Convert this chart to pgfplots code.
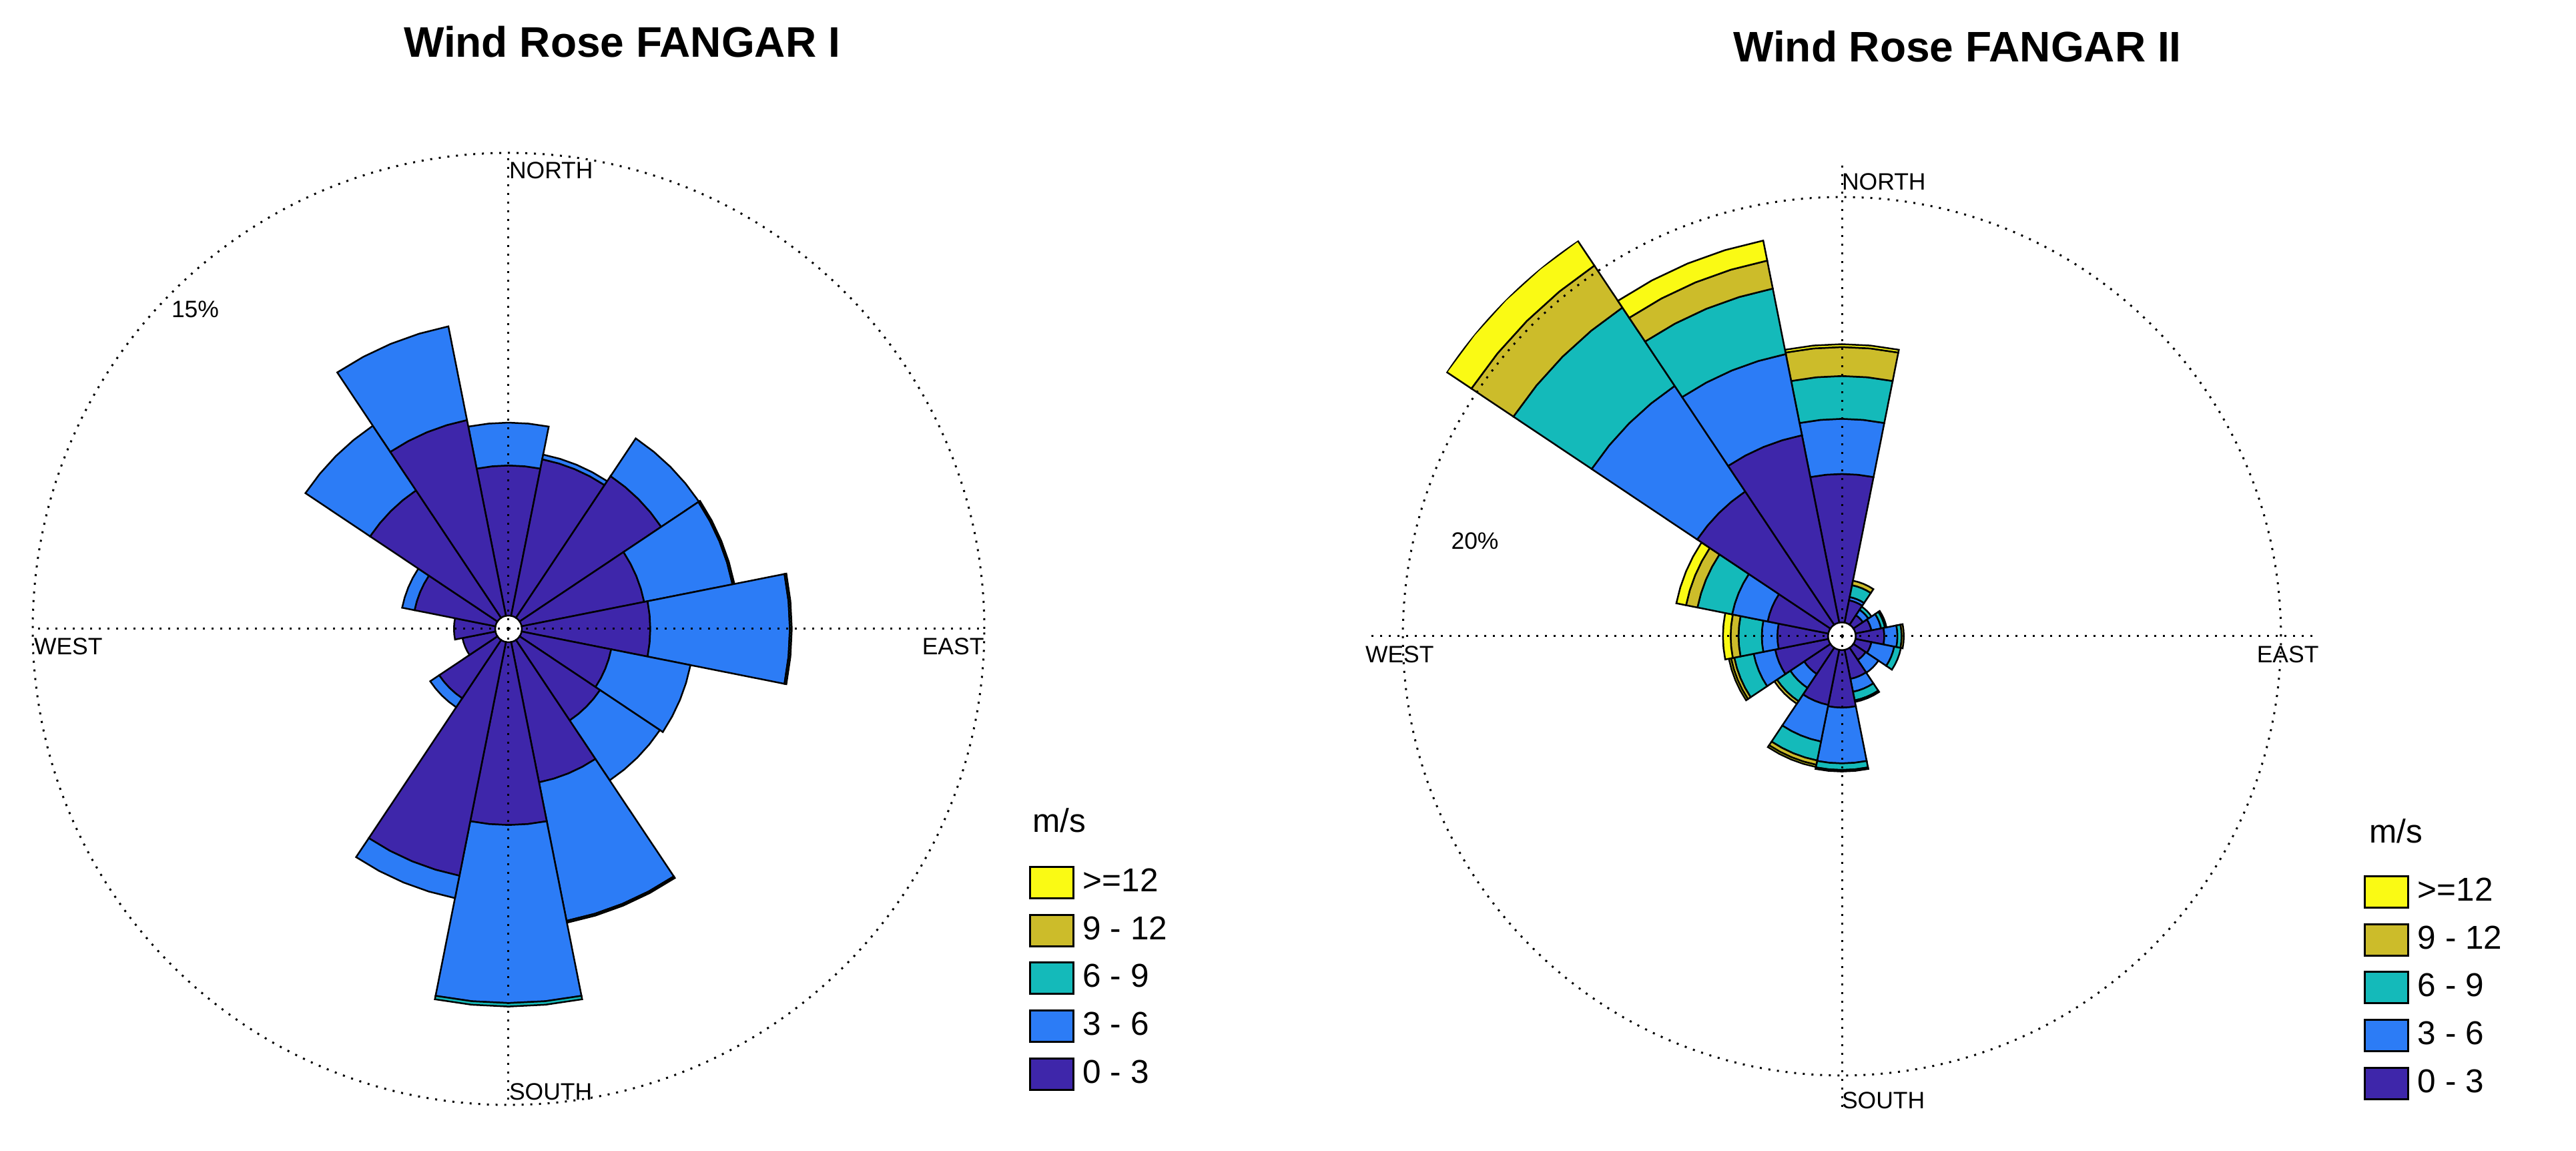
\documentclass[border=0pt]{standalone}
\usepackage{pgfplots}
\pgfplotsset{compat=1.18}
\usepackage{pgfplotstable}
\usepgfplotslibrary{polar}
\usepackage{fontspec}
\setmainfont{Liberation Sans}

\definecolor{c1}{RGB}{62,38,170}
\definecolor{c2}{RGB}{44,124,246}
\definecolor{c3}{RGB}{20,186,186}
\definecolor{c4}{RGB}{204,188,42}
\definecolor{c5}{RGB}{250,250,20}

% FANGAR I : bearing, frequency (%) of each speed class
\pgfplotstableread{
dir d1 d2 d3 d4 d5
0 4.73 1.35 0 0 0
22.5 5.03 0.15 0 0 0
45 5.37 1.43 0 0 0
67.5 3.94 2.84 0.06 0 0
90 4.05 4.40 0.06 0 0
112.5 2.88 2.55 0 0 0
135 3.05 2.27 0 0 0
157.5 4.51 4.45 0.06 0 0
180 5.76 5.61 0.11 0 0
202.5 7.51 0.72 0 0 0
225 2.21 0.34 0 0 0
247.5 1.06 0 0 0 0
270 1.30 0 0 0 0
292.5 2.60 0.40 0 0 0
315 4.83 2.45 0 0 0
337.5 6.29 3.01 0 0 0
}\roseA

% FANGAR II
\pgfplotstableread{
dir d1 d2 d3 d4 d5
0 6.76 2.51 1.95 1.32 0.13
22.5 1.04 0.15 0.55 0.21 0
45 0.52 0.30 0.17 0 0
67.5 0.74 0.45 0.18 0.07 0
90 1.30 0.60 0.19 0.10 0
112.5 0.74 1.06 0.31 0 0
135 0.67 0.70 0 0 0
157.5 1.35 0.60 0.40 0.07 0
180 2.62 2.54 0.30 0.07 0
202.5 2.56 1.70 0.88 0.20 0.10
225 1.44 0.76 0.73 0.14 0
247.5 2.47 1.00 0.90 0.15 0.10
270 2.31 0.71 1.06 0.36 0.35
292.5 2.82 1.65 1.61 0.53 0.45
315 7.30 5.78 4.29 2.30 1.36
337.5 8.70 3.77 3.04 1.30 0.93
}\roseB

% one annular sector: bearing, inner radius, outer radius, colour
\newcommand\band[4]{%
  \pgfmathsetmacro\aA{90-#1-11.25}%
  \pgfmathsetmacro\aB{90-#1-5.625}%
  \pgfmathsetmacro\aC{90-#1}%
  \pgfmathsetmacro\aD{90-#1+5.625}%
  \pgfmathsetmacro\aE{90-#1+11.25}%
  \edef\temp{\noexpand\addplot[forget plot, draw=black, line width=0.5pt, fill=#4]
    coordinates {(\aA,#2) (\aB,#2) (\aC,#2) (\aD,#2) (\aE,#2)
                 (\aE,#3) (\aD,#3) (\aC,#3) (\aB,#3) (\aA,#3)} -- cycle;}%
  \temp
}

\newcommand\drawrose[2]{%
  \pgfplotstablegetrowsof{#1}%
  \pgfmathtruncatemacro\nrows{\pgfplotsretval-1}%
  \pgfplotsforeachungrouped \i in {0,...,\nrows}{%
    \pgfplotstablegetelem{\i}{dir}\of#1\let\bdir\pgfplotsretval
    \pgfmathsetmacro\rcur{#2}%
    \pgfplotsforeachungrouped \k in {1,...,5}{%
      \pgfplotstablegetelem{\i}{d\k}\of#1\let\w\pgfplotsretval
      \ifdim\w pt>0pt
        \pgfmathsetmacro\rnext{\rcur+\w}%
        \band{\bdir}{\rcur}{\rnext}{c\k}%
        \let\rcur\rnext
      \fi
    }%
  }%
}

\pgfplotsset{
  rose/.style={
    scale only axis, anchor=center,
    xmin=0, xmax=360, ymin=0,
    xtick={0,90,180,270},
    xticklabels={}, yticklabels={},
    major tick length=0pt,
    xmajorgrids, ymajorgrids,
    grid style={black, line width=0.6pt, dash pattern=on 0.6pt off 2.0pt},
    axis line style={draw=none},
    axis on top,
    legend cell align=left,
    legend image code/.code={\draw[##1, draw=black, line width=0.6pt] (0pt,-4.7pt) rectangle (13.0pt,4.7pt);},
    legend style={anchor=north west, draw=none, fill=none, inner sep=0pt, outer sep=0pt,
      row sep=4.34pt, column sep=2.6pt, font=\fontsize{9.9pt}{11pt}\selectfont,
      nodes={inner sep=0pt}},
  },
}

\begin{document}
\begin{tikzpicture}
\useasboundingbox (0,0) rectangle (772pt,344.8pt);

\begin{polaraxis}[rose,
  at={(152.4pt,156.4pt)}, width=285.2pt, height=285.2pt,
  ymax=15, ytick={15},
  legend style={at={(1.0468,0.2511)}},
]
\drawrose{\roseA}{0.42}
\addlegendimage{fill=c5}\addlegendentry{>=12}
\addlegendimage{fill=c4}\addlegendentry{9 - 12}
\addlegendimage{fill=c3}\addlegendentry{6 - 9}
\addlegendimage{fill=c2}\addlegendentry{3 - 6}
\addlegendimage{fill=c1}\addlegendentry{0 - 3}
\end{polaraxis}

\begin{polaraxis}[rose,
  at={(552pt,154.2pt)}, width=285pt, height=285pt,
  ymax=21.66, ytick={20},
  legend style={at={(1.0486,0.2488)}},
]
\drawrose{\roseB}{0.63}
\addlegendimage{fill=c5}\addlegendentry{>=12}
\addlegendimage{fill=c4}\addlegendentry{9 - 12}
\addlegendimage{fill=c3}\addlegendentry{6 - 9}
\addlegendimage{fill=c2}\addlegendentry{3 - 6}
\addlegendimage{fill=c1}\addlegendentry{0 - 3}
\end{polaraxis}

\begin{scope}[every node/.style={inner sep=0pt, outer sep=0pt}]
\node[anchor=base, font=\bfseries\fontsize{12.8pt}{14pt}\selectfont] at (186.4pt,327.7pt) {Wind Rose FANGAR I};
\node[anchor=base, font=\bfseries\fontsize{12.8pt}{14pt}\selectfont] at (586.6pt,326.2pt) {Wind Rose FANGAR II};

\begin{scope}[every node/.append style={font=\fontsize{7.1pt}{8pt}\selectfont}]
\node[anchor=base west] at (152.6pt,291.2pt) {NORTH};
\node[anchor=base west] at (10.2pt,148.6pt) {WEST};
\node[anchor=base east] at (294.9pt,148.6pt) {EAST};
\node[anchor=base west] at (152.6pt,15.2pt) {SOUTH};
\node[anchor=base west] at (51.4pt,249.6pt) {15\%};
\node[anchor=base west] at (552pt,287.8pt) {NORTH};
\node[anchor=base west] at (409.2pt,146.2pt) {WEST};
\node[anchor=base east] at (694.9pt,146.2pt) {EAST};
\node[anchor=base west] at (552pt,12.6pt) {SOUTH};
\node[anchor=base west] at (434.9pt,180.3pt) {20\%};
\end{scope}

\node[anchor=base west, font=\fontsize{9.9pt}{11pt}\selectfont] at (309.5pt,95.4pt) {m/s};
\node[anchor=base west, font=\fontsize{9.9pt}{11pt}\selectfont] at (710pt,92.2pt) {m/s};
\end{scope}
\end{tikzpicture}
\end{document}
